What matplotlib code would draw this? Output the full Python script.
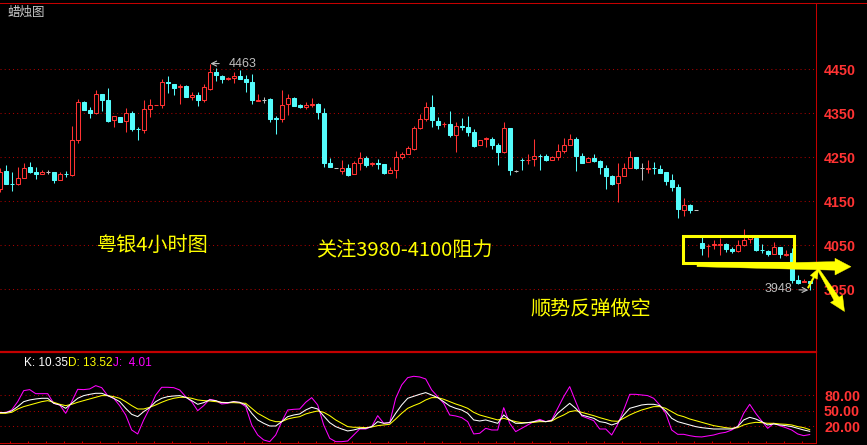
import matplotlib
matplotlib.use("Agg")
import matplotlib.pyplot as plt
from matplotlib.patches import Polygon, Rectangle
from matplotlib.lines import Line2D
import numpy as np

plt.rcParams['font.family'] = ['Liberation Sans', 'DejaVu Sans']
CJK = ['Noto Sans CJK SC', 'DejaVu Sans']

W, H = 867, 445

# ---------------- data (4-hour candles) ----------------
open_ = [4178, 4219, 4190, 4190, 4204, 4227, 4217, 4213, 4217, 4217,
         4199, 4213, 4210, 4289, 4376, 4358, 4350, 4395, 4380, 4334,
         4342, 4333, 4350, 4315, 4311, 4360, 4369, 4370, 4421, 4417,
         4409, 4412, 4387, 4392, 4381, 4406, 4444, 4435, 4427, 4431,
         4435, 4428, 4421, 4379, 4381, 4383, 4339, 4338, 4371, 4384,
         4369, 4365, 4370, 4371, 4351, 4237, 4225, 4220, 4226, 4213,
         4238, 4248, 4234, 4236, 4235, 4215, 4221, 4251, 4258, 4270,
         4317, 4338, 4364, 4333, 4325, 4326, 4301, 4321, 4318, 4308,
         4277, 4291, 4292, 4277, 4263, 4316, 4219, 4245, 4243, 4247,
         4254, 4252, 4245, 4250, 4264, 4279, 4292, 4254, 4240, 4249,
         4242, 4225, 4208, 4191, 4208, 4225, 4250, 4225, 4224, 4226,
         4223, 4217, 4198, 4182, 4130, 4142, 4130, 4056, 4048, 4050,
         4050, 4052, 4042, 4036, 4051, 4064, 4067, 4040, 4038, 4030,
         4046, 4029, 4032, 3971, 3966, 3968]
high = [4225, 4233, 4216, 4227, 4237, 4239, 4229, 4221, 4221, 4217,
        4217, 4219, 4322, 4383, 4378, 4365, 4403, 4395, 4408, 4344,
        4342, 4363, 4355, 4320, 4380, 4383, 4370, 4427, 4435, 4417,
        4417, 4414, 4399, 4399, 4417, 4463, 4454, 4437, 4432, 4444,
        4448, 4436, 4439, 4393, 4387, 4385, 4344, 4403, 4394, 4388,
        4371, 4375, 4384, 4374, 4361, 4248, 4225, 4244, 4234, 4242,
        4261, 4252, 4240, 4247, 4235, 4229, 4264, 4263, 4276, 4321,
        4348, 4376, 4392, 4341, 4331, 4355, 4330, 4339, 4344, 4314,
        4289, 4296, 4296, 4283, 4330, 4316, 4221, 4249, 4257, 4292,
        4258, 4257, 4253, 4280, 4293, 4303, 4297, 4259, 4251, 4258,
        4245, 4232, 4210, 4236, 4236, 4265, 4250, 4236, 4244, 4239,
        4233, 4217, 4213, 4189, 4158, 4144, 4130, 4070, 4053, 4061,
        4067, 4056, 4047, 4062, 4086, 4070, 4067, 4052, 4039, 4058,
        4046, 4039, 4043, 3982, 3974, 3970]
low = [4172, 4189, 4174, 4188, 4202, 4215, 4201, 4213, 4212, 4192,
       4198, 4205, 4208, 4283, 4358, 4340, 4348, 4356, 4330, 4320,
       4331, 4308, 4310, 4289, 4306, 4341, 4369, 4361, 4397, 4392,
       4372, 4386, 4381, 4367, 4375, 4403, 4424, 4420, 4426, 4420,
       4428, 4398, 4372, 4377, 4374, 4331, 4304, 4331, 4346, 4367,
       4363, 4360, 4365, 4338, 4229, 4227, 4225, 4211, 4208, 4213,
       4221, 4229, 4230, 4223, 4211, 4215, 4202, 4246, 4258, 4267,
       4314, 4333, 4320, 4315, 4320, 4297, 4263, 4312, 4298, 4274,
       4277, 4273, 4270, 4233, 4259, 4210, 4217, 4221, 4235, 4230,
       4221, 4242, 4244, 4244, 4259, 4279, 4220, 4236, 4239, 4240,
       4212, 4179, 4187, 4149, 4208, 4225, 4223, 4198, 4215, 4212,
       4215, 4186, 4174, 4112, 4117, 4124, 4130, 4027, 4024, 4042,
       4029, 4034, 4032, 4034, 4049, 4055, 4038, 4032, 4026, 4030,
       4021, 4026, 3965, 3961, 3966, 3948]
close = [4217, 4189, 4189, 4202, 4225, 4217, 4213, 4217, 4217, 4199,
         4212, 4212, 4289, 4376, 4358, 4350, 4395, 4380, 4333, 4344,
         4331, 4350, 4314, 4314, 4360, 4370, 4370, 4421, 4420, 4408,
         4412, 4388, 4392, 4381, 4410, 4444, 4436, 4427, 4431, 4435,
         4428, 4421, 4381, 4381, 4381, 4337, 4338, 4370, 4384, 4367,
         4365, 4369, 4371, 4352, 4238, 4227, 4225, 4226, 4210, 4236,
         4248, 4233, 4236, 4235, 4214, 4221, 4251, 4257, 4271, 4317,
         4336, 4364, 4335, 4324, 4326, 4301, 4321, 4320, 4308, 4276,
         4289, 4293, 4277, 4263, 4316, 4221, 4219, 4244, 4245, 4253,
         4253, 4244, 4250, 4264, 4279, 4292, 4253, 4238, 4249, 4242,
         4227, 4208, 4189, 4208, 4225, 4250, 4225, 4225, 4226, 4225,
         4215, 4197, 4183, 4133, 4142, 4130, 4130, 4045, 4049, 4052,
         4052, 4042, 4036, 4050, 4061, 4068, 4039, 4039, 4030, 4047,
         4030, 4031, 3971, 3964, 3970, 3965]

k_vals = [46.5, 46.5, 49.7, 58.1, 67.7, 71.0, 72.9, 74.2, 74.2, 64.5,
          61.3, 54.8, 64.5, 74.2, 79.4, 81.9, 83.9, 83.9, 79.4, 74.2,
          67.7, 54.8, 43.2, 38.7, 48.4, 56.1, 67.7, 74.2, 77.4, 78.7,
          79.4, 76.1, 69.7, 62.6, 65.8, 71.0, 69.7, 65.8, 65.8, 67.7,
          66.5, 61.3, 45.2, 32.3, 25.8, 20.6, 20.6, 29.0, 38.7, 41.9,
          43.9, 51.6, 56.8, 53.5, 40.0, 27.1, 19.4, 14.8, 11.0, 12.9,
          16.1, 16.1, 19.4, 29.0, 25.8, 27.1, 45.2, 61.3, 74.2, 78.1,
          81.9, 85.2, 80.6, 75.5, 67.7, 59.4, 54.8, 51.6, 45.2, 32.3,
          30.3, 32.3, 29.0, 25.8, 41.9, 32.3, 25.8, 25.8, 27.1, 29.0,
          31.0, 29.0, 31.0, 45.2, 54.8, 64.5, 54.8, 41.9, 38.7, 35.5,
          29.0, 27.1, 22.6, 26.5, 41.9, 54.8, 58.1, 61.3, 62.6, 62.6,
          60.0, 49.7, 35.5, 29.0, 25.8, 22.6, 19.4, 17.4, 16.1, 14.8,
          14.8, 14.8, 14.8, 19.4, 32.3, 37.4, 34.2, 29.0, 22.6, 24.5,
          22.6, 21.3, 19.4, 16.1, 12.9, 10.35]
d_vals = [45.2, 45.2, 47.1, 53.5, 58.1, 61.3, 64.5, 67.7, 69.7, 66.5,
          62.6, 60.0, 62.6, 66.5, 69.7, 72.9, 76.1, 79.4, 79.4, 77.4,
          74.2, 67.7, 60.0, 53.5, 53.5, 56.8, 61.3, 66.5, 71.0, 74.2,
          76.1, 76.1, 74.2, 71.0, 69.7, 69.0, 67.7, 66.5, 65.8, 65.8,
          65.2, 64.5, 54.8, 45.2, 38.7, 32.3, 29.0, 29.0, 34.2, 36.8,
          38.7, 43.9, 47.1, 49.7, 47.1, 40.6, 32.3, 25.8, 19.4, 18.1,
          18.1, 17.4, 18.7, 21.3, 22.6, 23.9, 34.2, 45.2, 54.8, 60.0,
          64.5, 71.0, 75.5, 75.5, 72.3, 67.7, 63.2, 59.4, 54.8, 47.1,
          41.9, 38.7, 35.5, 32.3, 35.5, 32.3, 29.0, 27.1, 27.1, 27.7,
          29.0, 29.0, 30.3, 36.8, 41.9, 48.4, 50.3, 47.1, 43.9, 40.6,
          36.8, 33.5, 30.3, 29.7, 35.5, 41.9, 47.1, 51.6, 54.8, 58.1,
          58.1, 54.8, 48.4, 41.9, 38.7, 34.2, 31.0, 27.7, 24.5, 21.3,
          19.4, 17.4, 16.1, 17.4, 22.6, 25.8, 27.7, 27.1, 25.8, 25.8,
          24.5, 23.9, 22.6, 19.4, 17.4, 13.52]
j_vals = [46.5, 46.5, 51.6, 67.7, 89.0, 91.0, 83.2, 83.2, 83.2, 64.5,
          61.3, 45.2, 67.7, 91.6, 91.0, 92.3, 98.7, 94.8, 79.4, 74.2,
          60.0, 41.9, 12.9, 5.2, 32.3, 54.8, 80.6, 95.5, 95.5, 94.8,
          90.3, 77.4, 67.7, 50.3, 60.0, 72.3, 69.7, 63.2, 64.5, 67.7,
          65.8, 58.1, 22.6, 3.2, -6.5, -9.7, 3.2, 29.0, 51.6, 52.9,
          53.5, 66.5, 75.5, 61.3, 22.6, -3.2, -9.7, -9.7, -8.4, 3.2,
          14.8, 14.8, 19.4, 40.6, 25.8, 27.1, 74.2, 100.0, 114.2, 116.8,
          115.5, 111.6, 90.3, 77.4, 64.5, 41.9, 40.0, 36.8, 29.0, 5.2,
          6.5, 16.1, 12.9, 12.9, 56.1, 25.8, 9.7, 16.1, 22.6, 29.0,
          33.5, 29.0, 32.3, 54.8, 77.4, 96.8, 67.7, 40.0, 35.5, 31.0,
          14.8, 14.8, 3.2, 23.9, 51.6, 81.9, 81.9, 80.6, 79.4, 74.2,
          61.3, 45.2, 12.9, 4.5, 4.5, 1.9, 0.0, -0.6, 1.3, 3.2,
          6.5, 8.4, 12.9, 19.4, 45.2, 62.6, 45.2, 30.3, 16.1, 25.8,
          21.3, 17.4, 12.9, 5.2, 1.9, 4.01]

price_ticks = [3950, 4050, 4150, 4250, 4350, 4450]
kdj_ticks = [20, 50, 80]

title_text = "蜡烛图"
note_left = "粤银4小时图"
note_mid = "关注3980-4100阻力"
note_right = "顺势反弹做空"

# ---------------- colours ----------------
UP = '#ff3232'
DOWN = '#54fcfc'
FLAT = '#c0c0c0'
FRAME = '#c40000'
GRID = '#a80000'
LABEL = '#ff3333'
YEL = '#ffff00'

fig = plt.figure(figsize=(W / 100, H / 100), dpi=100, facecolor='black')

def fy(py):
    return 1 - py / H

ax = fig.add_axes([0, fy(352), 816 / W, (352 - 3) / H], facecolor='black')
ax2 = fig.add_axes([0, fy(443), 816 / W, (443 - 352) / H], facecolor='black')

o = np.array(open_, float)
hi = np.array(high, float)
lo = np.array(low, float)
cl = np.array(close, float)
x = np.arange(len(o))

cols = np.where(cl > o, UP, np.where(cl < o, DOWN, FLAT))
faces = np.where(cl > o, 'black', cols)

ax.vlines(x, lo, hi, colors=cols, linewidth=0.75, zorder=2)
ax.bar(x, np.abs(cl - o), width=0.68, bottom=np.minimum(o, cl),
       color=faces, edgecolor=cols, linewidth=0.75, zorder=3)

ax.set_xlim(0.05, 136.05)
ax.set_ylim(3807.5, 4600.7)
ax.set_xticks([])
ax.yaxis.tick_right()
ax.set_yticks(price_ticks)
ax.set_yticklabels([str(v) for v in price_ticks])
ax.tick_params(axis='y', length=0, pad=5.8, labelcolor=LABEL, labelsize=10.3)
for t in ax.get_yticklabels():
    t.set_fontweight('bold')
ax.grid(axis='y', color=GRID, linestyle=(0, (1, 3)), linewidth=0.75)
ax.set_axisbelow(True)
for s in ['top', 'left', 'bottom']:
    ax.spines[s].set_visible(False)
ax.spines['right'].set_color(FRAME)
ax.spines['right'].set_linewidth(0.75)

# high / low markers
ih = int(np.argmax(hi))
ax.annotate(f"{hi[ih]:.0f}", xy=(ih, hi[ih]), xytext=(18.5, 0),
            textcoords='offset pixels', ha='left', va='center',
            color=FLAT, fontsize=9,
            arrowprops=dict(arrowstyle='->', color=FLAT, lw=0.8,
                            shrinkA=4.5, shrinkB=0.5), zorder=6)
il = int(np.argmin(lo))
ax.annotate(f"{lo[il]:.0f}", xy=(il, lo[il]), xytext=(-17, 1),
            textcoords='offset pixels', ha='right', va='center',
            color=FLAT, fontsize=9,
            arrowprops=dict(arrowstyle='->', color=FLAT, lw=0.8,
                            shrinkA=2.5, shrinkB=1), zorder=6)

# ---------------- KDJ panel ----------------
ax2.plot(x, j_vals, color='#ff00ff', linewidth=0.75, zorder=3)
ax2.plot(x, d_vals, color=YEL, linewidth=0.75, zorder=4)
ax2.plot(x, k_vals, color='white', linewidth=0.75, zorder=5)
ax2.set_xlim(0.05, 136.05)
ax2.set_ylim(-12.3, 163.8)
ax2.yaxis.tick_right()
ax2.set_yticks(kdj_ticks)
ax2.set_yticklabels([f"{v:.2f}" for v in kdj_ticks])
ax2.tick_params(axis='y', length=0, pad=5.8, labelcolor=LABEL, labelsize=10.3)
for t in ax2.get_yticklabels():
    t.set_fontweight('bold')
ax2.set_xticks(np.arange(1.7, 136, 3))
ax2.tick_params(axis='x', direction='in', length=1.5, width=0.75,
                color=FRAME, labelbottom=False)
ax2.grid(axis='y', color=GRID, linestyle=(0, (1, 3)), linewidth=0.75)
ax2.set_axisbelow(True)
ax2.spines['left'].set_visible(False)
ax2.spines['top'].set_color(FRAME)
ax2.spines['top'].set_linewidth(1.6)
ax2.spines['right'].set_color(FRAME)
ax2.spines['right'].set_linewidth(0.75)
ax2.spines['bottom'].set_color(FRAME)
ax2.spines['bottom'].set_linewidth(0.75)

# top frame line
fig.add_artist(Line2D([0, 1], [fy(3.2)] * 2, transform=fig.transFigure,
                      color=FRAME, linewidth=0.75, zorder=4))

# ---------------- texts ----------------
def ftext(px, py, s, **kw):
    return fig.text(px / W, fy(py), s, **kw)

ftext(7, 12.7, title_text, color='#c8c8c8', fontsize=9, va='center',
      family=CJK)
ftext(24, 366, f"K: {k_vals[-1]:.2f}", color='white', fontsize=8.5,
      va='baseline')
ftext(68, 366, f"D: {d_vals[-1]:.2f}", color=YEL, fontsize=8.5,
      va='baseline')
ftext(113, 366, f"J:  {j_vals[-1]:.2f}", color='#ff00ff', fontsize=8.5,
      va='baseline')

ftext(96.5, 245.5, note_left, color=YEL, fontsize=14.5, va='center',
      family=CJK)
ftext(316.5, 251, note_mid, color=YEL, fontsize=14.5, va='center',
      family=CJK)
ftext(530, 309.5, note_right, color=YEL, fontsize=14.5, va='center',
      family=CJK)

# ---------------- annotation box and arrows ----------------
fig.add_artist(Rectangle((683 / W, fy(262.5)), (794.2 - 683) / W,
                         (262.5 - 235.7) / H, transform=fig.transFigure,
                         fill=False, edgecolor=YEL, linewidth=2.2, zorder=5))

def poly(pts):
    arr = np.array([[px / W, fy(py)] for px, py in pts])
    fig.add_artist(Polygon(arr, closed=True, transform=fig.transFigure,
                           facecolor=YEL, edgecolor=YEL, linewidth=0.3,
                           zorder=6))

poly([(697, 264.7), (835, 261.6), (835, 258.3), (851, 266.7),
      (835, 275.0), (835, 270.2), (697, 266.7)])
poly([(817.2, 269.5), (818.9, 268.5), (839, 297.2), (842.5, 295.1),
      (844.5, 311.5), (830.5, 302.5), (834, 300.4)])
poly([(807.3, 287.6), (808.7, 288.4), (814.5, 277.7), (817.3, 279.2),
      (818.5, 268.5), (810.3, 275.4), (813.1, 276.9)])

fig.savefig('out.png', dpi=100, facecolor='black')
